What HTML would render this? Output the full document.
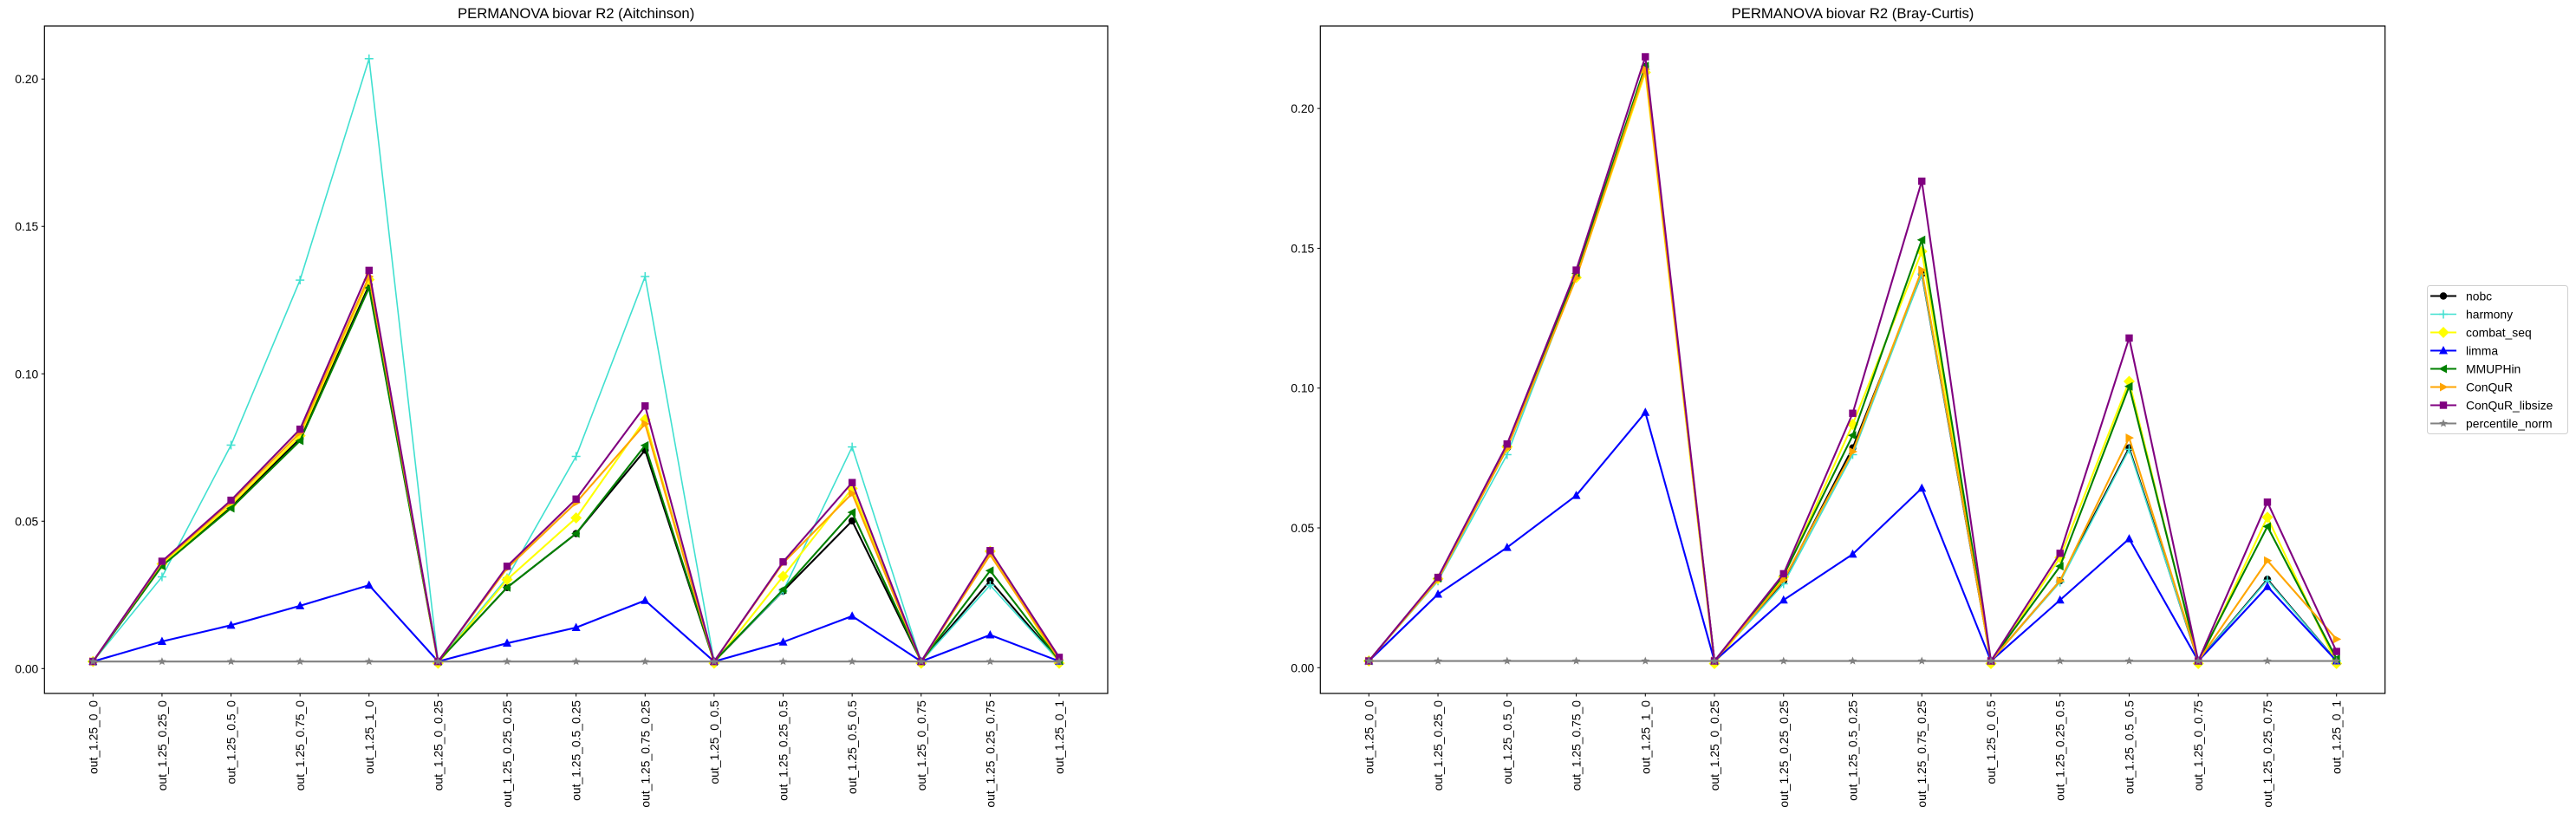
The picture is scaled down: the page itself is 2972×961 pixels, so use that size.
<!DOCTYPE html>
<html><head><meta charset="utf-8"><style>
html,body{margin:0;padding:0;background:#fff;}
svg text{font-family:"Liberation Sans","DejaVu Sans",sans-serif;}
</style></head><body>
<svg id="chart" width="2972" height="956" xmlns="http://www.w3.org/2000/svg"></svg>
<script>
const categories = ["out_1.25_0_0","out_1.25_0.25_0","out_1.25_0.5_0","out_1.25_0.75_0","out_1.25_1_0","out_1.25_0_0.25","out_1.25_0.25_0.25","out_1.25_0.5_0.25","out_1.25_0.75_0.25","out_1.25_0_0.5","out_1.25_0.25_0.5","out_1.25_0.5_0.5","out_1.25_0_0.75","out_1.25_0.25_0.75","out_1.25_0_1"];
const methods = ["nobc","harmony","combat_seq","limma","MMUPHin","ConQuR","ConQuR_libsize","percentile_norm"];
const colors = ["black","turquoise","yellow","blue","green","orange","purple","gray"];
const markers = ["o","+","D","^","<",">","s","*"];
const yTicks = [0.00,0.05,0.10,0.15,0.20];
const tickLabels = ["0.00","0.05","0.10","0.15","0.20"];

// Aitchinson
const aNobc    = [0.0024,0.0350,0.0550,0.0780,0.1300,0.0024,0.0275,0.0458,0.0741,0.0024,0.0263,0.0501,0.0024,0.0298,0.0025];
const aHarmony = [0.0024,0.0311,0.0758,0.1318,0.2069,0.0024,0.0308,0.0720,0.1330,0.0024,0.0263,0.0752,0.0024,0.0283,0.0025];
const aCombat  = [0.0024,0.0355,0.0555,0.0790,0.1320,0.0018,0.0302,0.0511,0.0845,0.0018,0.0313,0.0611,0.0018,0.0398,0.0018];
const aLimma   = [0.0024,0.0092,0.0147,0.0213,0.0283,0.0024,0.0086,0.0139,0.0231,0.0024,0.0090,0.0178,0.0024,0.0114,0.0025];
const aMmuphin = [0.0024,0.0348,0.0544,0.0773,0.1292,0.0024,0.0275,0.0458,0.0757,0.0024,0.0268,0.0530,0.0024,0.0332,0.0027];
const aConqur  = [0.0024,0.0360,0.0565,0.0800,0.1330,0.0024,0.0340,0.0563,0.0830,0.0024,0.0358,0.0594,0.0024,0.0386,0.0030];
const aLibsize = [0.0024,0.0364,0.0571,0.0812,0.1351,0.0024,0.0347,0.0575,0.0891,0.0024,0.0362,0.0631,0.0024,0.0400,0.0038];
const aPerc    = [0.0024,0.0024,0.0024,0.0024,0.0024,0.0024,0.0024,0.0024,0.0024,0.0024,0.0024,0.0024,0.0024,0.0024,0.0024];
// Bray-Curtis
const bNobc    = [0.0024,0.0318,0.0785,0.1405,0.2150,0.0024,0.0310,0.0786,0.1408,0.0024,0.0311,0.0786,0.0024,0.0316,0.0024];
const bHarmony = [0.0024,0.0310,0.0762,0.1400,0.2140,0.0024,0.0300,0.0762,0.1408,0.0024,0.0306,0.0781,0.0024,0.0313,0.0024];
const bCombat  = [0.0024,0.0318,0.0790,0.1395,0.2129,0.0015,0.0325,0.0870,0.1489,0.0015,0.0394,0.1024,0.0015,0.0538,0.0015];
const bLimma   = [0.0024,0.0263,0.0430,0.0616,0.0913,0.0024,0.0242,0.0406,0.0642,0.0024,0.0242,0.0461,0.0024,0.0290,0.0024];
const bMmuphin = [0.0024,0.0320,0.0795,0.1410,0.2152,0.0024,0.0330,0.0831,0.1530,0.0024,0.0363,0.1006,0.0024,0.0505,0.0032];
const bConqur  = [0.0024,0.0315,0.0785,0.1394,0.2140,0.0024,0.0314,0.0773,0.1422,0.0024,0.0311,0.0822,0.0024,0.0383,0.0102];
const bLibsize = [0.0024,0.0323,0.0800,0.1422,0.2185,0.0024,0.0336,0.0910,0.1740,0.0024,0.0409,0.1179,0.0024,0.0592,0.0058];
const bPerc    = [0.0024,0.0024,0.0024,0.0024,0.0024,0.0024,0.0024,0.0024,0.0024,0.0024,0.0024,0.0024,0.0024,0.0024,0.0024];

const NS="http://www.w3.org/2000/svg";
const svg=document.getElementById('chart');
function el(tag,attrs,parent){const e=document.createElementNS(NS,tag);for(const k in attrs)e.setAttribute(k,attrs[k]);(parent||svg).appendChild(e);return e;}

function marker(g,m,x,y,c){
  let e;
  if(m==="o"){e=el('circle',{cx:x,cy:y,r:4.2,fill:c},g);}
  else if(m==="+"){e=el('path',{d:`M${x-5},${y}H${x+5}M${x},${y-5}V${y+5}`,stroke:c,'stroke-width':1.5,fill:'none'},g);}
  else if(m==="D"){e=el('path',{d:`M${x},${y-6.5}L${x+6.5},${y}L${x},${y+6.5}L${x-6.5},${y}Z`,fill:c},g);}
  else if(m==="^"){e=el('path',{d:`M${x},${y-5.5}L${x+5},${y+4}L${x-5},${y+4}Z`,fill:c},g);}
  else if(m==="<"){e=el('path',{d:`M${x-5.5},${y}L${x+4},${y-5}L${x+4},${y+5}Z`,fill:c},g);}
  else if(m===">"){e=el('path',{d:`M${x+5.5},${y}L${x-4},${y-5}L${x-4},${y+5}Z`,fill:c},g);}
  else if(m==="s"){e=el('rect',{x:x-4.2,y:y-4.2,width:8.4,height:8.4,fill:c},g);}
  else if(m==="*"){let p="";for(let i=0;i<10;i++){const r=i%2?2.2:5;const a=-Math.PI/2+i*Math.PI/5;p+=(i?"L":"M")+(x+r*Math.cos(a)).toFixed(2)+","+(y+r*Math.sin(a)).toFixed(2);}e=el('path',{d:p+"Z",fill:c},g);}
  return e;
}

function drawChart(cfg){
  const {left,right,top,bottom,yMin,yMax,title,series,id}=cfg;
  const g=el('g',{});
  
  
  const n=categories.length;
  const pad=56;
  const xs=i=>left+pad+i*(right-left-2*pad)/(n-1);
  const ys=v=>bottom-(v-yMin)/(yMax-yMin)*(bottom-top);
  const t=el('text',{x:(left+right)/2,y:top-9,'text-anchor':'middle','font-size':16.7,fill:'#000'},g);
  t.textContent=title;
  
  
  // y ticks
  yTicks.forEach((v,i)=>{
    const y=ys(v);
    const tk=el('line',{x1:left-3.5,x2:left,y1:y,y2:y,stroke:'#000','stroke-width':1},g);
    
    
    const tl=el('text',{x:left-7,y:y+5,'text-anchor':'end','font-size':13.9,fill:'#000'},g);
    tl.textContent=tickLabels[i];
    
    
  });
  categories.forEach((c,i)=>{
    const x=xs(i);
    const tk=el('line',{x1:x,x2:x,y1:bottom,y2:bottom+3.5,stroke:'#000','stroke-width':1},g);
    
    
    const tl=el('text',{x:0,y:0,'text-anchor':'end','font-size':13.9,fill:'#000',transform:`translate(${x+5},${bottom+8}) rotate(-90)`},g);
    tl.textContent=c;
    
    
  });
  series.forEach((vals,si)=>{
    const sg=el('g',{},g);
    
    
    const pts=vals.map((v,i)=>xs(i).toFixed(2)+","+ys(v).toFixed(2)).join(" ");
    const line=el('polyline',{points:pts,fill:'none',stroke:colors[si],'stroke-width':si===1?1.6:2.1,'stroke-linejoin':'round'},sg);
    
    
    vals.forEach((v,i)=>{
      const mk=marker(sg,markers[si],xs(i),ys(v),colors[si]);
      
      
    });
  });
  const fr=el('rect',{x:left,y:top,width:right-left,height:bottom-top,fill:'none',stroke:'#000','stroke-width':1.2},g);
  
  
}

drawChart({id:'aitchinson-chart',left:51.3,right:1278,top:30,bottom:800,yMin:-0.00844,yMax:0.2180,title:'PERMANOVA biovar R2 (Aitchinson)',
  series:[aNobc,aHarmony,aCombat,aLimma,aMmuphin,aConqur,aLibsize,aPerc]});
drawChart({id:'bray-curtis-chart',left:1523.3,right:2751.7,top:30,bottom:800,yMin:-0.00921,yMax:0.2295,title:'PERMANOVA biovar R2 (Bray-Curtis)',
  series:[bNobc,bHarmony,bCombat,bLimma,bMmuphin,bConqur,bLibsize,bPerc]});

// legend
const lg=el('g',{});


const lb=el('rect',{x:2800.5,y:329.5,width:162,height:171,rx:3,fill:'#fff',stroke:'#d0d0d0','stroke-width':1},lg);


methods.forEach((m,i)=>{
  const y=341.5+21*i;
  const eg=el('g',{},lg);
  
  
  el('line',{x1:2804,x2:2834,y1:y,y2:y,stroke:colors[i],'stroke-width':i===1?1.6:2.1},eg);
  marker(eg,markers[i],2819,y,colors[i]);
  const tx=el('text',{x:2845,y:y+5,'font-size':13.9,fill:'#000'},eg);
  tx.textContent=m;
});
</script>
</body></html>
